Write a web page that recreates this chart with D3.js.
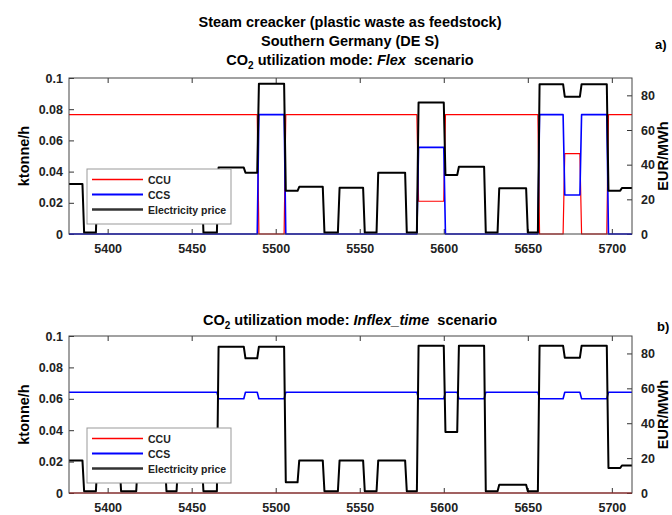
<!DOCTYPE html>
<html>
<head>
	<meta charset="utf-8">
	<title>Steam cracker - CO2 utilization</title>
	<style>
		html, body { margin:0; padding:0; background:#fff; }
		body { font-family: "Liberation Sans", Arial, Helvetica, sans-serif; }
		svg text { font-weight: bold; white-space: pre; }
		.tick text { font-size: 12.5px; fill:#222; }
		.tick line { stroke:#333; stroke-width:1px; }
		.box { fill:none; stroke:#444; stroke-width:1px; }
		.ser { fill:none; stroke-linejoin:round; }
	</style>
	<script src="https://d3js.org/d3.v7.min.js"></script>
</head>
<body>
<svg id="chart" width="672" height="515"></svg>
<script>

	//x ticks (hour of year) and y ticks
	var hourTicks = [5400, 5450, 5500, 5550, 5600, 5650, 5700];
	var co2Ticks = [0, 0.02, 0.04, 0.06, 0.08, 0.1];
	var priceTicks = [0, 20, 40, 60, 80];
	var seriesNames = ["CCU", "CCS", "Electricity price"];

	//a) Flex scenario - [hour, ktonne/h]
	var flexCcu = [[5377,0.0765],[5489,0.0765],[5490,0],[5505,0],[5506,0.0765],[5584,0.0765],[5585,0.021],[5600,0.021],[5601,0.0765],
		[5656,0.0765],[5657,0],[5671,0],[5672,0.0515],[5681,0.0515],[5682,0],[5697,0],[5698,0.0765],[5712,0.0765]];
	var flexCcs = [[5377,0],[5489,0],[5490,0.0765],[5505,0.0765],[5506,0],[5584,0],[5585,0.0555],[5600,0.0555],[5601,0],
		[5656,0],[5657,0.0765],[5671,0.0765],[5672,0.025],[5681,0.025],[5682,0.0765],[5697,0.0765],[5698,0],[5712,0]];
	//[hour, EUR/MWh]
	var flexPrice = [[5377,28.9],[5385,28.9],[5386,0.8],[5393,0.8],[5394,28.9],[5456,28.9],[5457,0.8],[5465,0.8],[5466,38.3],
		[5481,38.3],[5482,35.4],[5489,35.4],[5490,86.7],[5505,86.7],[5506,24.9],[5513,24.9],[5514,27.2],[5528,27.2],[5529,0.8],
		[5537,0.8],[5538,26.7],[5552,26.7],[5553,0.8],[5560,0.8],[5561,35.4],[5577,35.4],[5578,0.8],[5584,0.8],[5585,75.8],
		[5600,75.8],[5601,34.0],[5608,34.0],[5609,38.8],[5624,38.8],[5625,0.8],[5632,0.8],[5633,26.4],[5649,26.4],[5650,0.8],
		[5656,0.8],[5657,86.4],[5671,86.4],[5672,79.2],[5681,79.2],[5682,86.4],[5697,86.4],[5698,25],[5705,25],[5706,26.5],[5712,26.5]];

	//b) Inflex_time scenario
	var inflexCcu = [[5377,0],[5712,0]];
	var inflexCcs = [[5377,0.0642],[5465,0.0642],[5466,0.060],[5481,0.060],[5482,0.0642],[5489,0.0642],[5490,0.060],[5505,0.060],
		[5506,0.0642],[5584,0.0642],[5585,0.060],[5600,0.060],[5601,0.0642],[5608,0.0642],[5609,0.060],[5624,0.060],[5625,0.0642],
		[5656,0.0642],[5657,0.060],[5671,0.060],[5672,0.0642],[5681,0.0642],[5682,0.060],[5697,0.060],[5698,0.0642],[5712,0.0642]];
	var inflexPrice = [[5377,18.7],[5385,18.7],[5386,1],[5393,1],[5394,18.7],[5407,18.7],[5408,1],[5417,1],[5418,18.7],
		[5434,18.7],[5435,1],[5441,1],[5442,18.7],[5456,18.7],[5457,1],[5465,1],[5466,83.9],[5481,83.9],[5482,77.2],[5489,77.2],
		[5490,83.9],[5505,83.9],[5506,6.1],[5513,6.1],[5514,18.7],[5528,18.7],[5529,1],[5537,1],[5538,18.7],[5552,18.7],[5553,1],
		[5560,1],[5561,18.7],[5577,18.7],[5578,1],[5584,1],[5585,84.4],[5600,84.4],[5601,35],[5608,35],[5609,84.4],[5624,84.4],
		[5625,1],[5632,1],[5633,4.7],[5649,4.7],[5650,1],[5656,1],[5657,84.4],[5671,84.4],[5672,77.6],[5681,77.6],[5682,84.4],
		[5697,84.4],[5698,14.3],[5705,14.3],[5706,15.8],[5712,15.8]];

	var svg = d3.select("#chart");
	var colors = {CCU:"#ff0000", CCS:"#0000ff", "Electricity price":"#000"};
	var widths = {CCU:1.2, CCS:1.6, "Electricity price":2};

	//common x scale
	var x = d3.scaleLinear().domain([5377, 5712]).range([69, 632]);

	function title(gt, yb, scen){
		var t = gt.append("text").attr("x", 350).attr("y", yb).attr("text-anchor","middle").style("font-size","14.5px");
		t.append("tspan").text("CO");
		t.append("tspan").attr("dy", 4).style("font-size","10px").text("2");
		t.append("tspan").attr("dy", -4).text(" utilization mode: ");
		t.append("tspan").style("font-style","italic").text(scen);
		t.append("tspan").text("  scenario");
	}

	function panel(top, bottom, ccu, ccs, price, legTop){
		var g = svg.append("g");
		var y = d3.scaleLinear().domain([0, 0.1]).range([bottom, top]);
		var yR = d3.scaleLinear().domain([0, 90]).range([bottom, top]);

		//axes (ticks pointing inward like matlab)
		g.append("g").attr("transform","translate(0,"+bottom+")")
			.call(d3.axisBottom(x).tickValues(hourTicks).tickSize(-5).tickPadding(10).tickFormat(d3.format("d")));
		g.append("g").attr("transform","translate(0,"+top+")")
			.call(d3.axisTop(x).tickValues(hourTicks).tickSize(-5).tickFormat(""));
		g.append("g").attr("transform","translate(69,0)")
			.call(d3.axisLeft(y).tickValues(co2Ticks).tickSize(-5).tickPadding(6).tickFormat(function(d){ return String(d); }));
		g.append("g").attr("transform","translate(632,0)")
			.call(d3.axisRight(yR).tickValues(priceTicks).tickSize(-5).tickPadding(9));
		g.selectAll(".domain").remove();

		//series
		var line = d3.line().x(function(d){ return x(d[0]); });
		g.append("path").attr("class","ser").attr("d", line.y(function(d){ return y(d[1]); })(ccu))
			.style("stroke", colors.CCU).style("stroke-width", widths.CCU);
		g.append("path").attr("class","ser").attr("d", line.y(function(d){ return y(d[1]); })(ccs))
			.style("stroke", colors.CCS).style("stroke-width", widths.CCS);
		g.append("path").attr("class","ser").attr("d", line.y(function(d){ return yR(d[1]); })(price))
			.style("stroke", colors["Electricity price"]).style("stroke-width", widths["Electricity price"]);

		g.append("rect").attr("class","box").attr("x",69).attr("y",top).attr("width",632-69).attr("height",bottom-top);

		//axis labels
		g.append("text").attr("transform","translate(29,"+((top+bottom)/2)+") rotate(-90)")
			.attr("text-anchor","middle").style("font-size","14.5px").text("ktonne/h");
		g.append("text").attr("transform","translate(668,"+((top+bottom)/2)+") rotate(-90)")
			.attr("text-anchor","middle").style("font-size","14.5px").text("EUR/MWh");

		//legend
		var lg = g.append("g").attr("transform","translate(87,"+legTop+")");
		lg.append("rect").attr("width",144).attr("height",55).style("fill","#fff").style("stroke","#999");
		seriesNames.forEach(function(n,i){
			var yy = 10.5 + i*15;
			lg.append("line").attr("x1",5).attr("x2",56).attr("y1",yy).attr("y2",yy)
				.style("stroke", n==="Electricity price" ? "#333" : colors[n]).style("stroke-width", widths[n]+0.5);
			lg.append("text").attr("x",61).attr("y",yy+4).style("font-size","10.5px").style("fill","#222").text(n);
		});
	}

	//titles
	var gt = svg.append("g");
	gt.append("text").attr("x",350).attr("y",27).attr("text-anchor","middle").style("font-size","14.5px").text("Steam creacker (plastic waste as feedstock)");
	gt.append("text").attr("x",350).attr("y",46).attr("text-anchor","middle").style("font-size","14.5px").text("Southern Germany (DE S)");
	title(gt, 65, "Flex");
	title(gt, 325, "Inflex_time");
	gt.append("text").attr("x",655).attr("y",49).style("font-size","13px").text("a)");
	gt.append("text").attr("x",657).attr("y",331).style("font-size","13px").text("b)");

	panel(78, 234, flexCcu, flexCcs, flexPrice, 169);
	panel(336, 493, inflexCcu, inflexCcs, inflexPrice, 428);

</script>
</body>
</html>
